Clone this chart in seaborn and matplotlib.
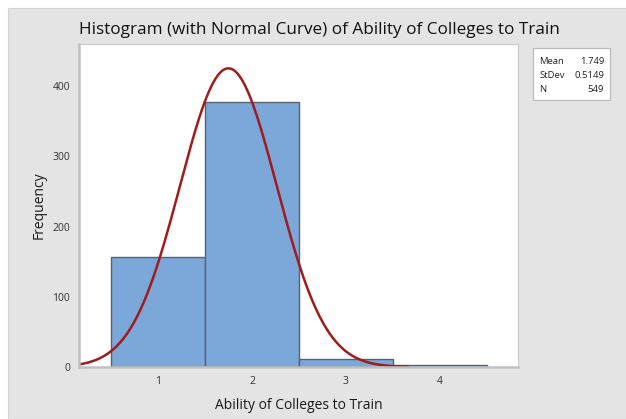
import numpy as np
import pandas as pd
import matplotlib
matplotlib.use("Agg")
import matplotlib.pyplot as plt
import seaborn as sns

# counts per response value
values = [1, 2, 3, 4]
counts = [156, 378, 12, 3]
mean_val = 1.749
sd_val = 0.5149
n_total = 549

df = pd.DataFrame({"value": values, "count": counts})

sns.set_style("white")
plt.rcParams["font.family"] = ["Open Sans", "DejaVu Sans"]

fig = plt.figure(figsize=(6.26, 4.19), dpi=100)
fig.patch.set_facecolor("white")
# minitab-style grey panel
fig.patches.append(plt.Rectangle((8 / 626, 0), 1, 1 - 8 / 419, transform=fig.transFigure,
                                 facecolor="#e4e4e4", edgecolor="#d4d4d4", lw=0.8, zorder=-10))

ax = fig.add_axes([79 / 626, 1 - 367 / 419, (518 - 79) / 626, (367 - 44) / 419])
ax.set_facecolor("white")

sns.histplot(data=df, x="value", weights="count", bins=[0.5, 1.5, 2.5, 3.5, 4.5],
             color="#7ba7d9", edgecolor="#56636f", linewidth=1.0, alpha=1, ax=ax)

# fitted normal curve scaled to counts
xs = np.linspace(0.16, 3.66, 400)
ys = n_total * 1.0 / (sd_val * np.sqrt(2 * np.pi)) * np.exp(-0.5 * ((xs - mean_val) / sd_val) ** 2)
sns.lineplot(x=xs, y=ys, color="#a01c1c", linewidth=1.8, ax=ax)

ax.set_xlim(0.16, 4.83)
ax.set_ylim(0, 460)
ax.set_xticks([1, 2, 3, 4])
ax.set_yticks([0, 100, 200, 300, 400])
ax.tick_params(axis="both", labelsize=7.5, colors="#333333", length=3, width=0.8,
               direction="out", color="#b0b0b0")
for side in ["left", "bottom"]:
    ax.spines[side].set_color("#c0c0c0")
    ax.spines[side].set_linewidth(1.8)
for side in ["top", "right"]:
    ax.spines[side].set_color("#c8c8c8")
    ax.spines[side].set_linewidth(0.8)

ax.set_xlabel("Ability of Colleges to Train", fontsize=10, color="#1a1a1a", labelpad=8)
ax.set_ylabel("Frequency", fontsize=10, color="#1a1a1a", labelpad=4)

fig.text(0.51, 1 - 30 / 419, "Histogram (with Normal Curve) of Ability of Colleges to Train",
         ha="center", va="center", fontsize=12.3, color="#111111")

# stats box
fig.patches.append(plt.Rectangle((533 / 626, 1 - 100 / 419), 77 / 626, 52 / 419,
                                 transform=fig.transFigure, facecolor="white",
                                 edgecolor="#b8b8b8", lw=0.8, zorder=5))
labels = ["Mean", "StDev", "N"]
nums = [f"{mean_val:.3f}", f"{sd_val:.4f}", f"{n_total}"]
for i, (lab, num) in enumerate(zip(labels, nums)):
    y = 1 - (62 + i * 14) / 419
    fig.text(539 / 626, y, lab, ha="left", va="center", fontsize=6.8, color="#222222", zorder=6)
    fig.text(604 / 626, y, num, ha="right", va="center", fontsize=6.8, color="#222222", zorder=6)

fig.savefig("out.png", dpi=100, facecolor=fig.get_facecolor())
